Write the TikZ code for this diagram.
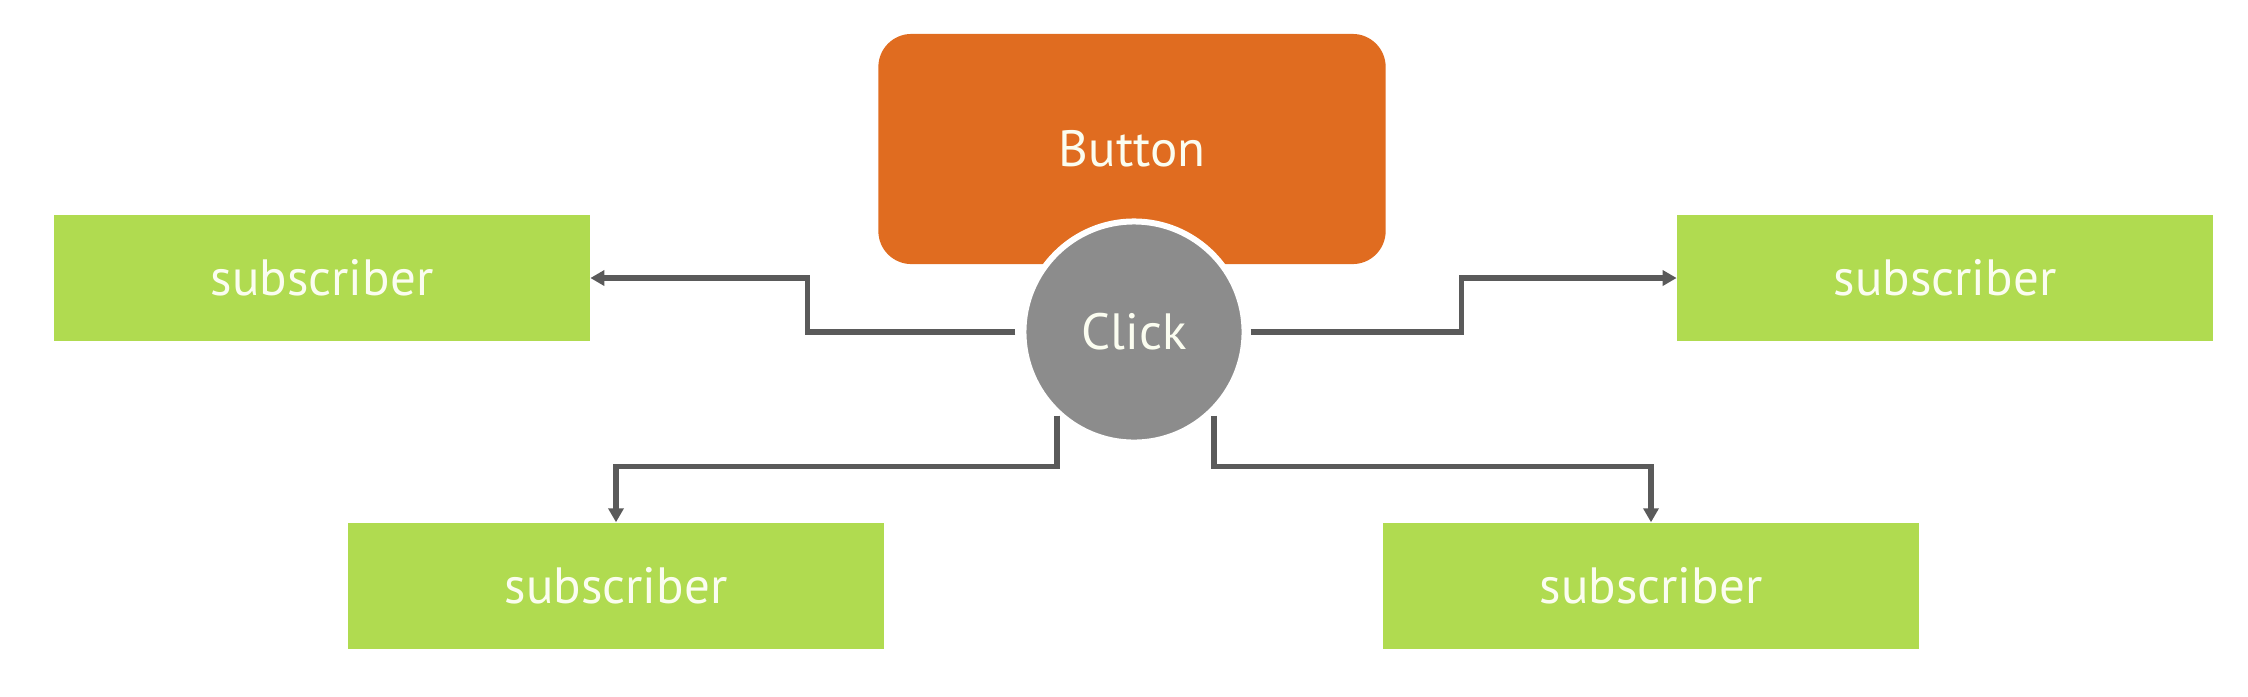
\documentclass[tikz,border=0pt]{standalone}
\usepackage{fontspec}
\setmainfont{PT Sans}
\usetikzlibrary{arrows.meta}
\definecolor{btnorange}{HTML}{E06C20}
\definecolor{subgreen}{HTML}{B0DB50}
\definecolor{clickgray}{HTML}{8C8C8C}
\definecolor{linkgray}{HTML}{5A5A5A}
\definecolor{labelwhite}{HTML}{FBFDF0}
\begin{document}
\begin{tikzpicture}[x=0.01cm, y=-0.01cm,
        subbox/.style={fill=subgreen, text=labelwhite, minimum width=5.35cm, minimum height=1.26cm,
            font=\fontsize{14.5}{17}\selectfont},
        link/.style={draw=linkgray, line width=1.5pt, -{Triangle[length=0.14cm, width=0.15cm]}}]
        \useasboundingbox (0,0) rectangle (2248,696);

        % --- ボタン ---
        \node[fill=btnorange, rounded corners=0.33cm, minimum width=5.07cm, minimum height=2.30cm,
            text=labelwhite, font=\fontsize{14.5}{17}\selectfont] (button) at (1132,149) {Button};

        % --- クリックイベント (白い縁取り) ---
        \node[circle, fill=clickgray, draw=white, line width=0.06cm, minimum size=2.21cm, inner sep=0pt,
            text=labelwhite, font=\fontsize{14.5}{17}\selectfont] (click) at (1134,332) {Click};

        % --- subscriber を4つ配置 ---
        \foreach \name/\px/\py in {subTL/322/278, subTR/1945/278, subBL/616/586, subBR/1651/586} {
            \node[subbox] (\name) at (\px,\py) {subscriber};
        }

        % --- 矢印 ---
        \draw[link, shorten <=0.05cm] (click.west) -- ++(-213,0) |- (subTL.east);
        \draw[link, shorten <=0.03cm] (click.east) -- ++(214,0) |- (subTR.west);
        \draw[link] ([shift={(-77,-30)}]click.south) -- ++(0,51) -| (subBL.north);
        \draw[link] ([shift={(80,-30)}]click.south) -- ++(0,51) -| (subBR.north);

    \end{tikzpicture}
\end{document}
